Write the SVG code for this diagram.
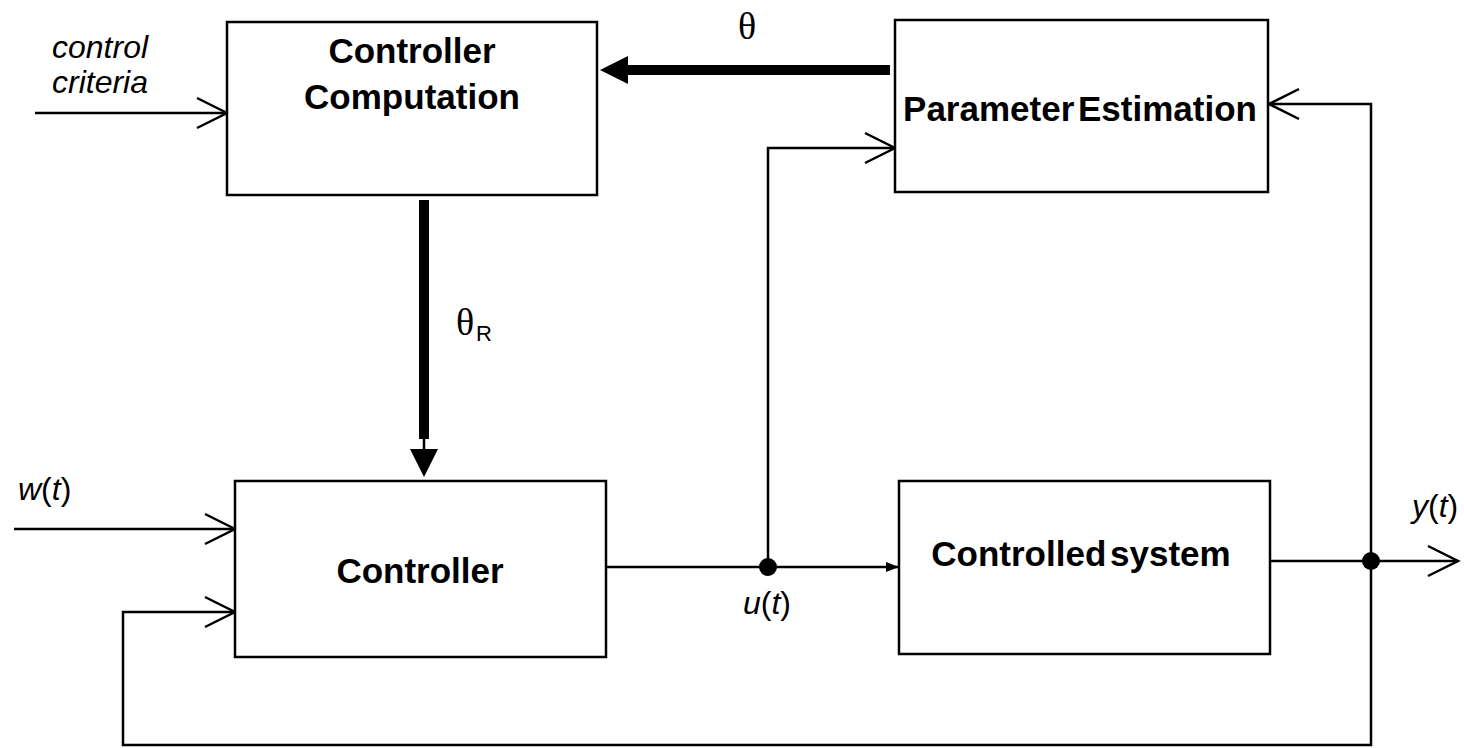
<svg xmlns="http://www.w3.org/2000/svg" width="1464" height="748" viewBox="0 0 1464 748">
<style>
.box{fill:#fff;stroke:#000;stroke-width:2.5}
.t{font-family:"Liberation Sans",Arial,sans-serif;font-weight:bold;font-size:35px;text-anchor:middle;fill:#000}
.i{font-family:"Liberation Sans",Arial,sans-serif;font-style:italic;font-size:32px;fill:#000}
.n{font-style:normal}
.g{font-family:"Liberation Serif","Times New Roman",serif;font-size:38px;fill:#000}
.w{fill:none;stroke:#000;stroke-width:2.5}
.k{fill:none;stroke:#000;stroke-width:10}
</style>
<defs>
<marker id="open" markerUnits="userSpaceOnUse" markerWidth="34" markerHeight="34" refX="30" refY="15" orient="auto" overflow="visible">
<path d="M0,0 L30,15 L0,30" fill="none" stroke="#000" stroke-width="2.5"/>
</marker>
<marker id="small" markerUnits="userSpaceOnUse" markerWidth="14" markerHeight="12" refX="13" refY="5" orient="auto" overflow="visible">
<path d="M0,0 L13,5 L0,10 Z" fill="#000"/>
</marker>
</defs>

<g id="connectors">
<path class="w" d="M35,113 L227,113" marker-end="url(#open)"/>
<path class="k" d="M890,70 L625,70"/>
<path d="M600,70 L628,56 L628,84 Z" fill="#000"/>
<path class="k" d="M424,200 L424,439"/>
<path class="w" d="M424,439 L424,450"/>
<path d="M410,449 L438,449 L424,477 Z" fill="#000"/>
<path class="w" d="M606,567 L899,567" marker-end="url(#small)"/>
<path class="w" d="M768,567 L768,148 L895,148" marker-end="url(#open)"/>
<circle cx="768" cy="567" r="9" fill="#000"/>
<path class="w" d="M1270,561 L1458,561" marker-end="url(#open)"/>
<path class="w" d="M1371,561 L1371,104 L1269,104" marker-end="url(#open)"/>
<path class="w" d="M1371,561 L1371,745 L123,745 L123,612 L235,612" marker-end="url(#open)"/>
<circle cx="1371" cy="561" r="9" fill="#000"/>
<path class="w" d="M14,529 L235,529" marker-end="url(#open)"/>
</g>

<g id="controller-computation">
<rect class="box" x="227" y="22" width="370" height="173"/>
<text class="t" x="412" y="63">Controller</text>
<text class="t" x="412" y="109">Computation</text>
</g>

<g id="parameter-estimation">
<rect class="box" x="895" y="20" width="373" height="172"/>
<text class="t" x="1080" y="121" word-spacing="-6">Parameter Estimation</text>
</g>

<g id="controller">
<rect class="box" x="235" y="481" width="371" height="176"/>
<text class="t" x="420" y="583">Controller</text>
</g>

<g id="controlled-system">
<rect class="box" x="899" y="481" width="371" height="173"/>
<text class="t" x="1081" y="566" word-spacing="-6">Controlled system</text>
</g>

<g id="labels">
<text class="i" x="52" y="58">control</text>
<text class="i" x="52" y="93">criteria</text>
<text class="g" x="747" y="39" text-anchor="middle">θ</text>
<text class="g" x="456" y="335">θ</text>
<text x="476" y="341" font-family="Liberation Sans,Arial,sans-serif" font-size="22">R</text>
<text class="i" x="18" y="500">w<tspan class="n">(</tspan>t<tspan class="n">)</tspan></text>
<text class="i" x="743" y="614">u<tspan class="n">(</tspan>t<tspan class="n">)</tspan></text>
<text class="i" x="1412" y="517">y<tspan class="n">(</tspan>t<tspan class="n">)</tspan></text>
</g>
</svg>
